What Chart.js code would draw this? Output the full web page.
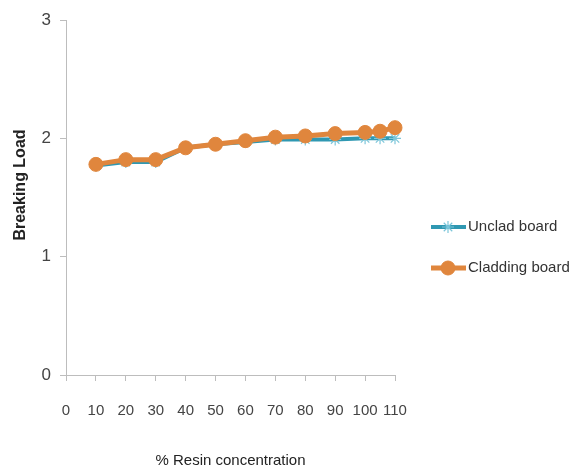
<!DOCTYPE html>
<html>
<head>
<meta charset="utf-8">
<script src="https://cdn.jsdelivr.net/npm/chart.js@4/dist/chart.umd.min.js"></script>
<style>
  html, body { margin: 0; padding: 0; background: #fff; }
  #wrap { width: 582px; height: 471px; }
</style>
</head>
<body>
<div id="wrap"><canvas id="c" width="582" height="471"></canvas></div>
<script>
// Resin concentration (%) at which each board was tested
const resinPct = [10, 20, 30, 40, 50, 60, 70, 80, 90, 100, 105, 110];
// Breaking load readings
const uncladLoad   = [1.77, 1.80, 1.80, 1.92, 1.95, 1.97, 1.99, 1.99, 1.99, 2.00, 2.00, 2.00];
const claddingLoad = [1.78, 1.82, 1.82, 1.92, 1.95, 1.98, 2.01, 2.02, 2.04, 2.05, 2.06, 2.09];
const seriesNames = ['Unclad board', 'Cladding board'];
const xTickValues = [0, 10, 20, 30, 40, 50, 60, 70, 80, 90, 100, 110];
const yTickValues = [0, 1, 2, 3];
const xTitle = '% Resin concentration';
const yTitle = 'Breaking Load';

const FONT = '"Liberation Sans", Arial, sans-serif';
const TEAL = '#2f98b2';
const TEAL_LIGHT = '#7cc6da';
const ORANGE = '#e0863d';

const toPoints = ys => resinPct.map((x, i) => ({ x: x, y: ys[i] }));

// Right-hand legend (line sample with marker) and the rotated y title
const extras = {
  id: 'extras',
  afterDraw(chart) {
    const ctx = chart.ctx;
    const ds = chart.data.datasets;
    const rows = [{ d: ds[0], y: 227 }, { d: ds[1], y: 268 }];
    ctx.save();
    rows.forEach(r => {
      ctx.strokeStyle = r.d.borderColor;
      ctx.lineWidth = r.d.borderWidth;
      ctx.beginPath();
      ctx.moveTo(431, r.y);
      ctx.lineTo(466, r.y);
      ctx.stroke();
      ctx.strokeStyle = r.d.pointBorderColor;
      ctx.fillStyle = r.d.pointBackgroundColor;
      ctx.lineWidth = r.d.pointBorderWidth;
      Chart.helpers.drawPoint(ctx, {
        pointStyle: r.d.pointStyle,
        radius: r.d.pointRadius,
        borderWidth: r.d.pointBorderWidth
      }, 448, r.y);
      ctx.fillStyle = '#333';
      ctx.font = '15px ' + FONT;
      ctx.textAlign = 'left';
      ctx.textBaseline = 'middle';
      ctx.fillText(r.d.label, 468, r.y);
    });

    ctx.translate(21, 185);
    ctx.rotate(-Math.PI / 2);
    ctx.fillStyle = '#222';
    ctx.font = 'bold 16px ' + FONT;
    ctx.textAlign = 'center';
    ctx.textBaseline = 'middle';
    ctx.fillText(yTitle, 0, 0);
    ctx.restore();
  }
};

new Chart(document.getElementById('c'), {
  type: 'line',
  data: {
    datasets: [
      {
        label: seriesNames[0],
        data: toPoints(uncladLoad),
        borderColor: TEAL,
        borderWidth: 4,
        pointStyle: 'star',
        pointRadius: 6,
        pointBorderColor: TEAL_LIGHT,
        pointBackgroundColor: TEAL_LIGHT,
        pointBorderWidth: 1.2,
        tension: 0,
        clip: false,
        order: 1
      },
      {
        label: seriesNames[1],
        data: toPoints(claddingLoad),
        borderColor: ORANGE,
        borderWidth: 5,
        pointStyle: 'circle',
        pointRadius: 7,
        pointBorderColor: ORANGE,
        pointBackgroundColor: ORANGE,
        pointBorderWidth: 1,
        tension: 0,
        clip: false,
        order: 0
      }
    ]
  },
  options: {
    responsive: false,
    animation: false,
    devicePixelRatio: 1,
    layout: { padding: { left: 0, right: 187, top: 20, bottom: 0 } },
    plugins: {
      legend: { display: false },
      tooltip: { enabled: false }
    },
    scales: {
      x: {
        type: 'linear',
        min: 0,
        max: 110,
        afterBuildTicks: s => { s.ticks = xTickValues.map(v => ({ value: v })); },
        afterFit: s => { s.height = 96; },
        grid: {
          display: true,
          drawOnChartArea: false,
          drawTicks: true,
          tickLength: 6,
          color: '#bdbdbd'
        },
        border: { display: true, color: '#bdbdbd', width: 1 },
        ticks: {
          color: '#444',
          font: { family: FONT, size: 15 },
          padding: 21,
          maxRotation: 0,
          autoSkip: false
        },
        title: {
          display: true,
          text: xTitle,
          color: '#222',
          font: { family: FONT, size: 15 },
          padding: { top: 0, bottom: 1 }
        }
      },
      y: {
        min: 0,
        max: 3,
        afterBuildTicks: s => { s.ticks = yTickValues.map(v => ({ value: v })); },
        afterFit: s => { s.width = 66; },
        grid: {
          display: true,
          drawOnChartArea: false,
          drawTicks: true,
          tickLength: 6,
          color: '#bdbdbd'
        },
        border: { display: true, color: '#bdbdbd', width: 1 },
        ticks: {
          color: '#444',
          font: { family: FONT, size: 17 },
          padding: 9
        },
        title: { display: false }
      }
    }
  },
  plugins: [extras]
});
</script>
</body>
</html>
